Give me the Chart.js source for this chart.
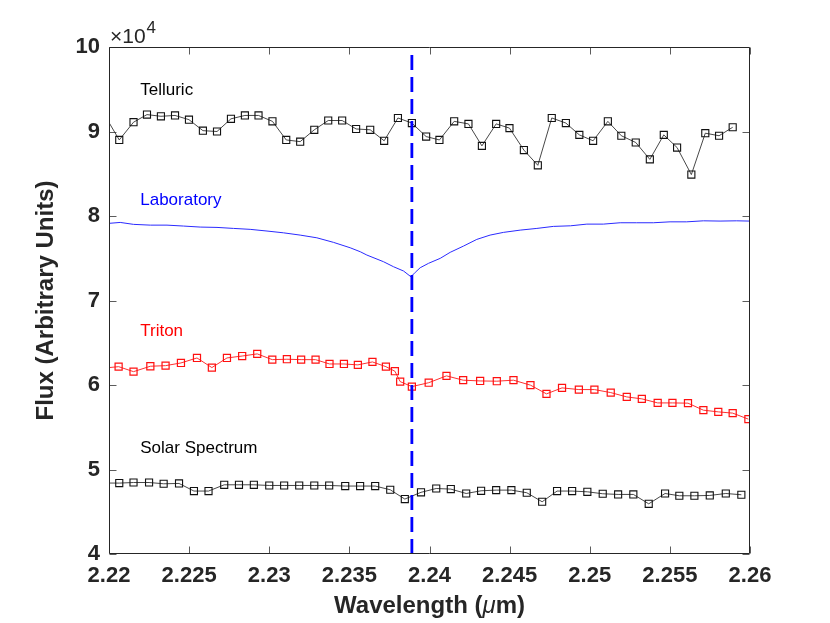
<!DOCTYPE html>
<html>
<head>
<meta charset="utf-8">
<script src="https://cdn.jsdelivr.net/npm/chart.js@4.4.1/dist/chart.umd.min.js"></script>
<style>
html, body { margin: 0; padding: 0; background: #fff; }
canvas { display: block; }
</style>
</head>
<body>
<canvas id="chart" width="830" height="623"></canvas>
<script>
'use strict';

// wavelength in micrometres, flux in units of 10^4
const telluricWl = [2.21977, 2.22064, 2.22153, 2.22237, 2.22324, 2.22412, 2.22499, 2.22586, 2.22674, 2.22761, 2.22848, 2.22933, 2.23020, 2.23106, 2.23193, 2.23281, 2.23368, 2.23455, 2.23542, 2.23630, 2.23717, 2.23803, 2.23890, 2.23979, 2.24062, 2.24154, 2.24243, 2.24327, 2.24416, 2.24499, 2.24589, 2.24676, 2.24763, 2.24851, 2.24935, 2.25021, 2.25113, 2.25197, 2.25287, 2.25375, 2.25462, 2.25545, 2.25634, 2.25721, 2.25807, 2.25892];
const telluricFlux = [9.18, 8.90, 9.11, 9.20, 9.18, 9.19, 9.14, 9.01, 9.00, 9.15, 9.19, 9.19, 9.12, 8.90, 8.88, 9.02, 9.13, 9.13, 9.03, 9.02, 8.89, 9.16, 9.10, 8.94, 8.90, 9.12, 9.09, 8.83, 9.09, 9.04, 8.78, 8.60, 9.16, 9.10, 8.96, 8.89, 9.12, 8.95, 8.87, 8.67, 8.96, 8.81, 8.49, 8.98, 8.95, 9.05];

const labWl = [2.22000, 2.22070, 2.22153, 2.22258, 2.22362, 2.22465, 2.22569, 2.22674, 2.22777, 2.22881, 2.22986, 2.23089, 2.23193, 2.23297, 2.23401, 2.23505, 2.23568, 2.23609, 2.23713, 2.23775, 2.23838, 2.23884, 2.23911, 2.23942, 2.23994, 2.24067, 2.24129, 2.24212, 2.24295, 2.24378, 2.24461, 2.24566, 2.24670, 2.24773, 2.24880, 2.24982, 2.25085, 2.25190, 2.25293, 2.25397, 2.25501, 2.25605, 2.25709, 2.25813, 2.25917, 2.25996];
const labFlux = [7.913, 7.924, 7.901, 7.892, 7.892, 7.881, 7.869, 7.865, 7.853, 7.842, 7.822, 7.801, 7.774, 7.742, 7.688, 7.624, 7.577, 7.538, 7.459, 7.400, 7.349, 7.281, 7.333, 7.388, 7.440, 7.499, 7.570, 7.644, 7.723, 7.774, 7.806, 7.833, 7.853, 7.877, 7.884, 7.904, 7.904, 7.920, 7.920, 7.920, 7.931, 7.931, 7.943, 7.940, 7.943, 7.940];

const tritonWl = [2.21966, 2.22060, 2.22153, 2.22258, 2.22353, 2.22449, 2.22549, 2.22642, 2.22736, 2.22831, 2.22925, 2.23019, 2.23110, 2.23199, 2.23289, 2.23376, 2.23466, 2.23553, 2.23644, 2.23728, 2.23784, 2.23817, 2.23890, 2.23995, 2.24106, 2.24210, 2.24316, 2.24420, 2.24524, 2.24630, 2.24730, 2.24827, 2.24932, 2.25029, 2.25131, 2.25231, 2.25325, 2.25424, 2.25516, 2.25613, 2.25709, 2.25802, 2.25892, 2.25990];
const tritonFlux = [6.20, 6.217, 6.158, 6.222, 6.229, 6.261, 6.320, 6.206, 6.320, 6.343, 6.368, 6.300, 6.305, 6.300, 6.300, 6.249, 6.249, 6.238, 6.273, 6.217, 6.163, 6.040, 5.981, 6.027, 6.108, 6.057, 6.048, 6.045, 6.057, 5.998, 5.895, 5.966, 5.946, 5.946, 5.910, 5.859, 5.836, 5.788, 5.788, 5.785, 5.702, 5.682, 5.667, 5.596];

const solarWl = [2.21975, 2.22064, 2.22153, 2.22250, 2.22341, 2.22437, 2.22530, 2.22621, 2.22719, 2.22811, 2.22904, 2.23000, 2.23093, 2.23187, 2.23281, 2.23374, 2.23474, 2.23567, 2.23661, 2.23755, 2.23846, 2.23947, 2.24042, 2.24133, 2.24229, 2.24322, 2.24416, 2.24511, 2.24607, 2.24703, 2.24796, 2.24890, 2.24985, 2.25081, 2.25177, 2.25272, 2.25368, 2.25470, 2.25559, 2.25653, 2.25749, 2.25849, 2.25946];
const solarFlux = [4.84, 4.839, 4.846, 4.846, 4.831, 4.835, 4.745, 4.745, 4.819, 4.819, 4.819, 4.811, 4.811, 4.811, 4.811, 4.811, 4.804, 4.804, 4.804, 4.760, 4.650, 4.730, 4.775, 4.768, 4.716, 4.748, 4.756, 4.756, 4.725, 4.618, 4.745, 4.745, 4.736, 4.713, 4.705, 4.705, 4.594, 4.716, 4.689, 4.689, 4.693, 4.716, 4.701];

const markerWl = 2.2389;

const xTicks = [2.22, 2.225, 2.23, 2.235, 2.24, 2.245, 2.25, 2.255, 2.26];
const xTickLabels = ['2.22', '2.225', '2.23', '2.235', '2.24', '2.245', '2.25', '2.255', '2.26'];
const yTicks = [4, 5, 6, 7, 8, 9, 10];
const yTickLabels = ['4', '5', '6', '7', '8', '9', '10'];

const FONT = 'Helvetica, "Liberation Sans", Arial, sans-serif';

// text written inside the axes, placed in data units
const seriesNotes = [
    { text: 'Telluric', x: 2.22195, y: 9.49, color: '#000000' },
    { text: 'Laboratory', x: 2.22195, y: 8.19, color: '#0000ff' },
    { text: 'Triton', x: 2.22195, y: 6.64, color: '#ff0000' },
    { text: 'Solar Spectrum', x: 2.22195, y: 5.245, color: '#000000' },
];

function pairs(xs, ys){
    return xs.map((v, i) => ({ x: v, y: ys[i] }));
}

// no marker for the point that sits left of the axis
function hideOutside(r){
    return function(c){
        const p = c.raw;
        return p && p.x < 2.22 ? 0 : r;
    };
}

const frame = {
    id: 'frame',
    afterDraw(chart){
        const { ctx, chartArea: a, scales } = chart;
        const xs = scales.x, ys = scales.y;
        const L = Math.round(a.left) + 0.5, R = Math.round(a.right) - 0.5;
        const T = Math.round(a.top) + 0.5, B = Math.round(a.bottom) - 0.5;
        ctx.save();

        // ticks pointing inward on all four sides
        ctx.strokeStyle = 'rgba(38,38,38,0.75)';
        ctx.lineWidth = 1;
        ctx.beginPath();
        xTicks.forEach(v => {
            const px = Math.round(xs.getPixelForValue(v)) + 0.5;
            ctx.moveTo(px, B); ctx.lineTo(px, B - 7);
            ctx.moveTo(px, T); ctx.lineTo(px, T + 7);
        });
        yTicks.forEach(v => {
            const py = Math.round(ys.getPixelForValue(v)) + 0.5;
            ctx.moveTo(L, py); ctx.lineTo(L + 7, py);
            ctx.moveTo(R, py); ctx.lineTo(R - 7, py);
        });
        ctx.stroke();

        // box
        ctx.strokeStyle = '#262626';
        ctx.beginPath();
        ctx.moveTo(L, T); ctx.lineTo(R, T); ctx.lineTo(R, B); ctx.lineTo(L, B); ctx.closePath();
        ctx.stroke();

        // series names
        ctx.font = '17px ' + FONT;
        ctx.textBaseline = 'middle';
        ctx.textAlign = 'left';
        seriesNotes.forEach(n => {
            ctx.fillStyle = n.color;
            ctx.fillText(n.text, xs.getPixelForValue(n.x), ys.getPixelForValue(n.y));
        });

        // exponent above the y axis
        ctx.fillStyle = '#262626';
        ctx.textBaseline = 'alphabetic';
        ctx.font = '21px ' + FONT;
        ctx.fillText('\u00d710', a.left + 1, 43);
        const w = ctx.measureText('\u00d710').width;
        ctx.font = '17px ' + FONT;
        ctx.fillText('4', a.left + 2 + w, 33);

        // x title with italic mu
        const cx = (a.left + a.right) / 2;
        const partA = 'Wavelength (', partB = '\u03bc', partC = 'm)';
        const bold = 'bold 24px ' + FONT, ital = 'italic 24px ' + FONT;
        ctx.font = bold; const wa = ctx.measureText(partA).width;
        ctx.font = ital; const wb = ctx.measureText(partB).width;
        ctx.font = bold; const wc = ctx.measureText(partC).width;
        let x0 = cx - (wa + wb + wc) / 2;
        ctx.font = bold; ctx.fillText(partA, x0, 613);
        ctx.font = ital; ctx.fillText(partB, x0 + wa, 613);
        ctx.font = bold; ctx.fillText(partC, x0 + wa + wb, 613);

        // y title
        ctx.translate(53, (a.top + a.bottom) / 2);
        ctx.rotate(-Math.PI / 2);
        ctx.textAlign = 'center';
        ctx.font = bold;
        ctx.fillText('Flux (Arbitrary Units)', 0, 0);
        ctx.restore();
    }
};

const ctx = document.getElementById('chart');

const chart = new Chart(ctx, {
    type: 'line',
    data: {
        datasets: [
            {
                label: 'line',
                data: [{ x: markerWl, y: 4 }, { x: markerWl, y: 10 }],
                borderColor: '#0000ff',
                borderWidth: 2.8,
                borderDash: [15, 7],
                pointRadius: 0,
            },
            {
                label: 'Telluric',
                data: pairs(telluricWl, telluricFlux),
                borderColor: '#333333',
                borderWidth: 0.9,
                pointStyle: 'rect',
                pointRadius: hideOutside(5),
                pointBorderColor: '#111111',
                pointBorderWidth: 1.1,
                pointBackgroundColor: 'rgba(0,0,0,0)',
            },
            {
                label: 'Laboratory',
                data: pairs(labWl, labFlux),
                borderColor: '#2a2aff',
                borderWidth: 1,
                pointRadius: 0,
            },
            {
                label: 'Triton',
                data: pairs(tritonWl, tritonFlux),
                borderColor: '#ff3030',
                borderWidth: 1,
                pointStyle: 'rect',
                pointRadius: hideOutside(5),
                pointBorderColor: '#ff1010',
                pointBorderWidth: 1.2,
                pointBackgroundColor: 'rgba(0,0,0,0)',
            },
            {
                label: 'Solar Spectrum',
                data: pairs(solarWl, solarFlux),
                borderColor: '#333333',
                borderWidth: 0.9,
                pointStyle: 'rect',
                pointRadius: hideOutside(5),
                pointBorderColor: '#111111',
                pointBorderWidth: 1.1,
                pointBackgroundColor: 'rgba(0,0,0,0)',
            },
        ]
    },
    options: {
        responsive: false,
        animation: false,
        layout: { padding: { top: 47, right: 80, left: 0, bottom: 0 } },
        elements: { line: { tension: 0 } },
        plugins: { legend: { display: false }, tooltip: { enabled: false } },
        scales: {
            x: {
                type: 'linear',
                min: 2.22,
                max: 2.26,
                grid: { display: false, drawTicks: false },
                border: { display: false },
                afterBuildTicks: s => { s.ticks = xTicks.map(v => ({ value: v })); },
                afterFit: s => { s.height = 69; },
                ticks: {
                    autoSkip: false,
                    maxRotation: 0,
                    padding: 9,
                    color: '#262626',
                    font: { family: FONT, size: 22, weight: 'bold' },
                    callback: (v, i) => xTickLabels[i],
                },
            },
            y: {
                min: 4,
                max: 10,
                grid: { display: false, drawTicks: false },
                border: { display: false },
                afterBuildTicks: s => { s.ticks = yTicks.map(v => ({ value: v })); },
                afterFit: s => { s.width = 109; },
                ticks: {
                    padding: 9,
                    color: '#262626',
                    font: { family: FONT, size: 22, weight: 'bold' },
                    callback: (v, i) => yTickLabels[i],
                },
            },
        },
    },
    plugins: [frame],
});
</script>
</body>
</html>
